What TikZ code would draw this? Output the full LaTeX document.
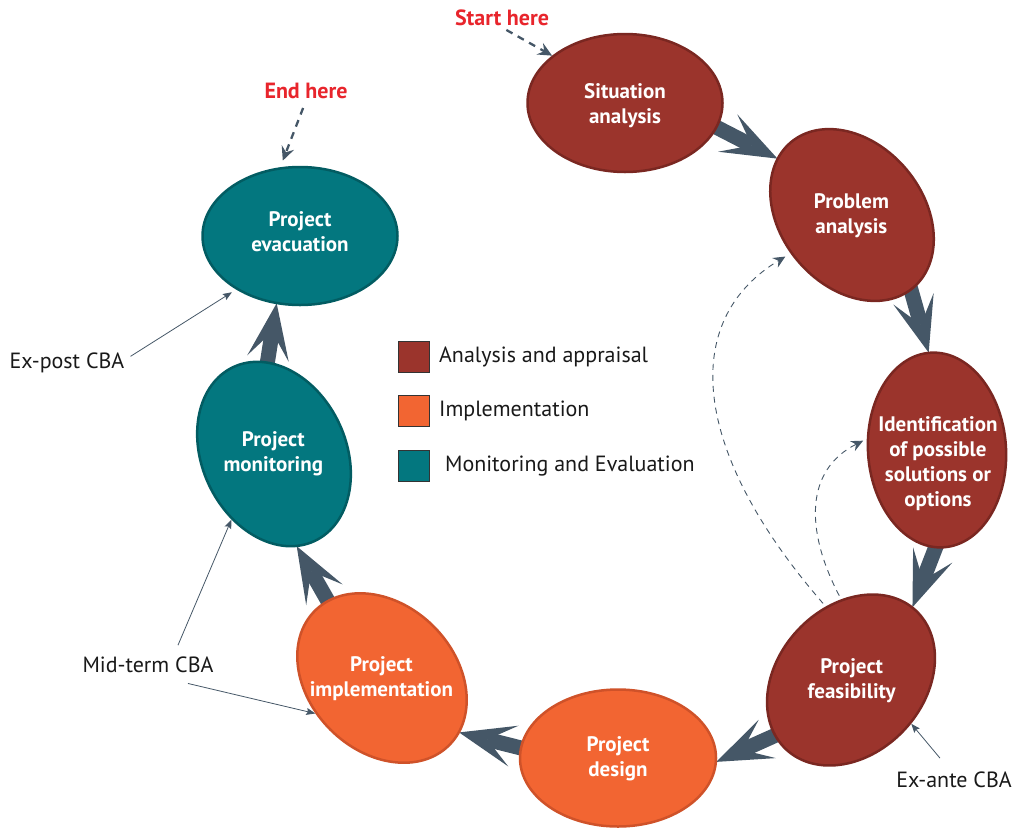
\documentclass[tikz,border=0pt]{standalone}
\usepackage{fontspec}
\setmainfont{PT Sans}
\usepackage{graphicx}
\usetikzlibrary{shapes.geometric,arrows.meta,positioning,backgrounds}

\definecolor{redcell}{HTML}{9B342C}
\definecolor{redrim}{HTML}{7A2721}
\definecolor{orangecell}{HTML}{F26532}
\definecolor{orangerim}{HTML}{CF5229}
\definecolor{tealcell}{HTML}{03777F}
\definecolor{tealrim}{HTML}{025C62}
\definecolor{arrowgray}{HTML}{455767}
\definecolor{herered}{HTML}{E8252C}

\newcommand{\cellfont}{\fontsize{21}{25}\selectfont\bfseries}
\newcommand{\labelfont}{\fontsize{22}{26}\selectfont}
% text of a turned ellipse, turned back so that it stays level
\newcommand{\celltext}[3][-6pt]{\makebox[0pt]{\raisebox{#1}[0pt][0pt]{\rotatebox[origin=c]{#2}{\begin{tabular}{@{}c@{}}#3\end{tabular}}}}}

\tikzset{
  cell/.style={ellipse, inner sep=0pt, line width=2.5pt, text=white, font=\cellfont},
  analysisbox/.style={cell, fill=redcell, draw=redrim},
  implbox/.style={cell, fill=orangecell, draw=orangerim},
  monitorbox/.style={cell, fill=tealcell, draw=tealrim},
  key/.style={draw=black!80, line width=0.8pt, minimum size=31pt, inner sep=0pt},
  keytext/.style={font=\labelfont, text=black!90, inner sep=2pt},
  note/.style={font=\labelfont, text=black!90, inner sep=2pt},
  here/.style={font=\labelfont\bfseries, text=herered, inner sep=2pt},
  flow/.style={arrowgray, line width=15pt, -{Stealth[length=56pt, width=42pt, inset=27pt, line width=0pt]}, shorten <=-12pt, shorten >=-1pt},
  pointer/.style={arrowgray, line width=0.8pt, -{Stealth[length=9pt, width=7pt, inset=1.5pt]}},
  startline/.style={arrowgray, line width=2.3pt, dash pattern=on 7pt off 6pt, -{Stealth[length=14pt, width=13pt, inset=5pt]}},
  loopback/.style={arrowgray, line width=0.9pt, dash pattern=on 6pt off 5pt, -{Stealth[length=12pt, width=11pt, inset=4pt]}}
}

\begin{document}
\begin{tikzpicture}[x=1pt,y=-1pt]
    \useasboundingbox (0,0) rectangle (1022,831);

    % the cycle
    \node[analysisbox, minimum width=195pt, minimum height=138pt] (sit) at (625,103) {\celltext[-8pt]{0}{Situation\\analysis}};
    \node[analysisbox, minimum width=190pt, minimum height=142pt, rotate=-50] (prob) at (852,215) {\celltext{50}{Problem\\analysis}};
    \node[analysisbox, minimum width=138pt, minimum height=195pt, rotate=4] (ident) at (937,450) {\celltext[-19pt]{-4}{Identification\\of possible\\solutions or\\options}};
    \node[analysisbox, minimum width=190pt, minimum height=146pt, rotate=47] (feas) at (851,680) {\celltext{-47}{Project\\feasibility}};
    \node[implbox, minimum width=196pt, minimum height=137pt] (design) at (618,758) {\celltext{0}{Project\\design}};
    \node[implbox, minimum width=190pt, minimum height=146pt, rotate=-45] (impl) at (382,678) {\celltext{45}{Project\\implementation}};
    \node[monitorbox, minimum width=192pt, minimum height=144pt, rotate=-65] (monit) at (274,454) {\celltext{65}{Project\\monitoring}};
    \node[monitorbox, minimum width=195pt, minimum height=138pt] (evac) at (300,236) {\celltext[-3pt]{0}{Project\\evacuation}};

    \begin{scope}[on background layer]
        \draw[flow] (sit.-15) -- (prob.193);
        \draw[flow] (prob.-2) -- (ident.91);
        \draw[flow] (ident.265) -- (feas.3);
        \draw[flow] (feas.169) -- (design.-2);
        \draw[flow] (design.174) -- (impl.10);
        \draw[flow] (impl.170) -- (monit.-11);
        \draw[flow] (monit.159) -- (evac.251);
    \end{scope}

    % legend
    \node[key, fill=redcell] (key-analysis) at (414,357) {};
    \node[key, fill=orangecell] (key-impl) at (414,411) {};
    \node[key, fill=tealcell] (key-monit) at (414,466) {};
    \node[keytext, right=7pt of key-analysis] (key-analysis-text) {Analysis and appraisal};
    \node[keytext, right=7pt of key-impl] (key-impl-text) {Implementation};
    \node[keytext, right=13pt of key-monit] (key-monit-text) {Monitoring and Evaluation};

    % start, end and the CBA notes
    \node[here, anchor=base] (start) at (502,25) {Start here};
    \node[here, anchor=base] (finish) at (306,98) {End here};
    \node[note, anchor=base] (expost) at (67,368) {Ex-post CBA};
    \node[note, anchor=base] (midterm) at (148,672) {Mid-term CBA};
    \node[note, anchor=base] (exante) at (954,787) {Ex-ante CBA};

    \draw[startline, shorten <=5pt] (start.south) -- (sit.147);
    \draw[startline, shorten <=8pt, shorten >=7pt] (finish.south) -- (evac.106);

    \draw[pointer, shorten >=5pt] ([shift={(4,-6)}]expost.east) -- (evac.220);
    \draw[pointer] ([shift={(30,-9)}]midterm.north) -- (monit.302);
    \draw[pointer] ([shift={(40,9)}]midterm.south) -- (impl.253);
    \draw[pointer] ([shift={(-14,-11)}]exante.north) -- (feas.277);

    % loops back from the feasibility study
    \draw[loopback, shorten <=4pt, shorten >=6pt] (feas.62) .. controls (690,450) and (680,320) .. (prob.262);
    \draw[loopback, shorten <=4pt, shorten >=4pt] (feas.50) .. controls (805,530) and (805,470) .. (ident.167);
\end{tikzpicture}
\end{document}
